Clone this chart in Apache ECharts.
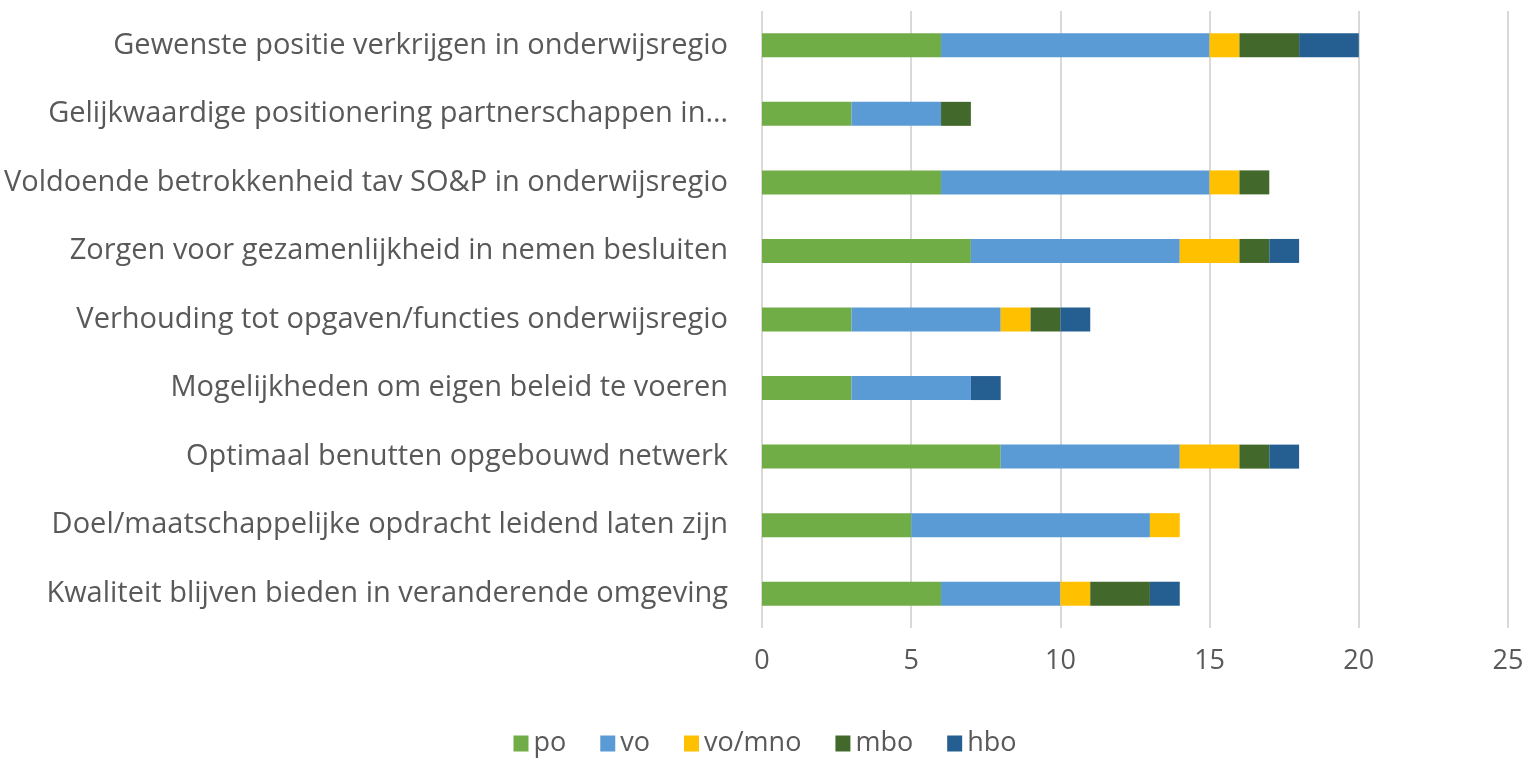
<!DOCTYPE html>
<html>
<head>
<meta charset="utf-8">
<script src="https://cdn.jsdelivr.net/npm/echarts@6/dist/echarts.min.js"></script>
<style>html,body{margin:0;padding:0;background:#fff}#c{width:1530px;height:758px}</style>
</head>
<body>
<div id="c"></div>
<script>
const categories = [
  "Gewenste positie verkrijgen in onderwijsregio",
  "Gelijkwaardige positionering partnerschappen in\u2026",
  "Voldoende betrokkenheid tav SO&P in onderwijsregio",
  "Zorgen voor gezamenlijkheid in nemen besluiten",
  "Verhouding tot opgaven/functies onderwijsregio",
  "Mogelijkheden om eigen beleid te voeren",
  "Optimaal benutten opgebouwd netwerk",
  "Doel/maatschappelijke opdracht leidend laten zijn",
  "Kwaliteit blijven bieden in veranderende omgeving"
];
const seriesNames = ["po", "vo", "vo/mno", "mbo", "hbo"];
const po    = [6, 3, 6, 7, 3, 3, 8, 5, 6];
const vo    = [9, 3, 9, 7, 5, 4, 6, 8, 4];
const vomno = [1, 0, 1, 2, 1, 0, 2, 1, 1];
const mbo   = [2, 1, 1, 1, 1, 0, 1, 0, 2];
const hbo   = [2, 0, 0, 1, 1, 1, 1, 0, 1];
const xTicks = [0, 5, 10, 15, 20, 25];

const colors = ["#70AD47", "#5B9BD5", "#FFC000", "#43682B", "#255E91"];
const values = [po, vo, vomno, mbo, hbo];
const font = "'Open Sans', 'Liberation Sans', sans-serif";

const chart = echarts.init(document.getElementById('c'));
chart.setOption({
  animation: false,
  backgroundColor: '#fff',
  grid: { left: 762, right: 22, top: 11, bottom: 130 },
  legend: {
    bottom: -4, left: 'center',
    itemWidth: 15, itemHeight: 16, itemGap: 34,
    icon: 'rect',
    textStyle: { fontSize: 27, color: '#595959', fontFamily: font },
    data: seriesNames
  },
  xAxis: {
    type: 'value', min: xTicks[0], max: xTicks[xTicks.length - 1], interval: 5,
    axisLine: { show: false }, axisTick: { show: false },
    splitLine: { lineStyle: { color: '#D9D9D9', width: 2 } },
    axisLabel: { fontSize: 27, color: '#595959', fontFamily: font, margin: 20 }
  },
  yAxis: {
    type: 'category', inverse: true, data: categories,
    axisLine: { show: false }, axisTick: { show: false },
    axisLabel: { fontSize: 29, color: '#595959', fontFamily: font, margin: 34 }
  },
  series: seriesNames.map((n, i) => ({
    name: n, type: 'bar', stack: 'total', barWidth: 24,
    itemStyle: { color: colors[i] },
    data: values[i].map(v => v === 0 ? null : v)
  }))
});
</script>
</body>
</html>
